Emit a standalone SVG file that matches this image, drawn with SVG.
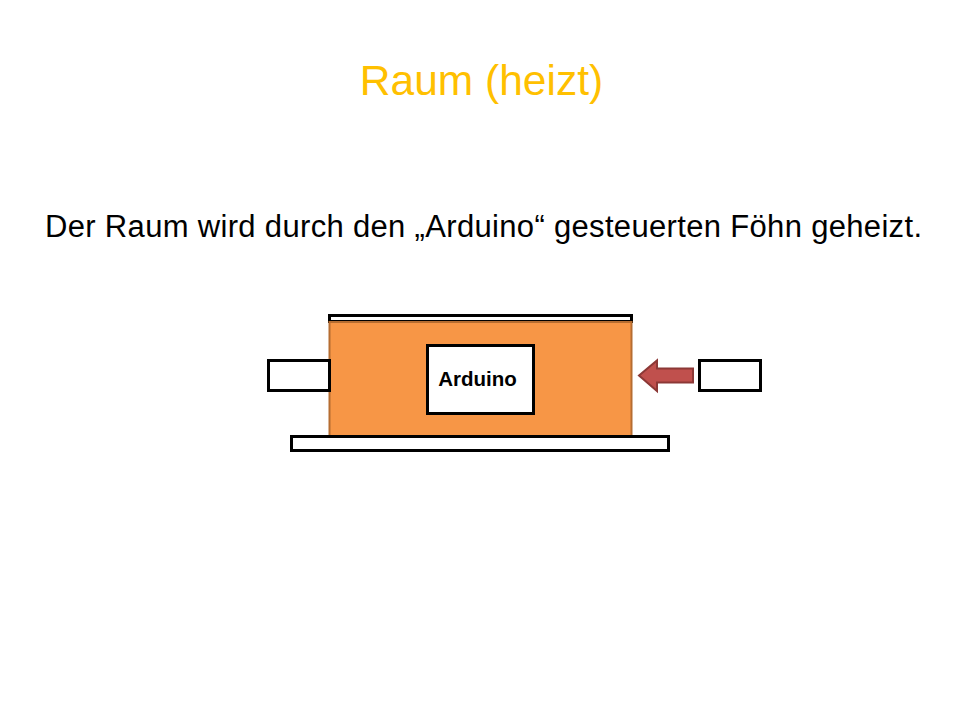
<svg xmlns="http://www.w3.org/2000/svg" width="960" height="720" viewBox="0 0 960 720">
<style>
.box{fill:#fff;stroke:#000;stroke-width:3}
.t{font-family:"Liberation Sans",Arial,sans-serif}
</style>
<rect width="960" height="720" fill="#fff"/>
<text class="t" x="481.5" y="95" font-size="42.5" fill="#FFC000" text-anchor="middle">Raum (heizt)</text>
<text class="t" x="45" y="237" font-size="31" fill="#000" textLength="877" lengthAdjust="spacing">Der Raum wird durch den „Arduino“ gesteuerten Föhn geheizt.</text>
<g id="top-bar"><rect class="box" x="329.5" y="315.5" width="302" height="6"/></g>
<g id="room"><rect x="329.5" y="322" width="302" height="114" fill="#F79646" stroke="#B66D31" stroke-width="2"/></g>
<g id="left-box"><rect class="box" x="268.5" y="360.5" width="61" height="30"/></g>
<g id="bottom-bar"><rect class="box" x="291.5" y="436.5" width="377" height="14"/></g>
<g id="arduino"><rect class="box" x="427.5" y="345.5" width="106" height="68"/>
<text class="t" x="477.5" y="386" font-size="20.5" font-weight="bold" text-anchor="middle">Arduino</text></g>
<g id="right-box"><rect class="box" x="699.5" y="360.5" width="61" height="30"/></g>
<g id="connectors"><path d="M639,375.5 L657,360.5 L657,368.5 L693,368.5 L693,382.5 L657,382.5 L657,391 Z" fill="#C0504D" stroke="#8C3836" stroke-width="2"/></g>
</svg>
